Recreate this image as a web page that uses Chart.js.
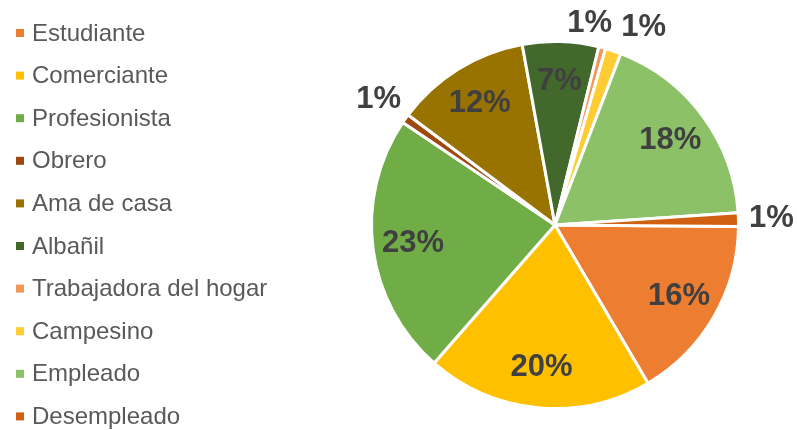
<!DOCTYPE html>
<html lang="es">
<head>
<meta charset="utf-8">
<title>Ocupación</title>
<script src="https://cdn.jsdelivr.net/npm/chart.js@4.4.1/dist/chart.umd.min.js"></script>
<style>
  html, body { margin: 0; padding: 0; background: #fff; }
  #grafico { display: block; }
</style>
</head>
<body>
<canvas id="grafico" width="797" height="430"></canvas>
<script>
// Datos (porcentaje por ocupación)
const ocupaciones = ['Estudiante', 'Comerciante', 'Profesionista', 'Obrero', 'Ama de casa',
    'Albañil', 'Trabajadora del hogar', 'Campesino', 'Empleado', 'Desempleado'];
const porcentajes = [16.4, 19.9, 23.0, 0.8, 11.9, 6.7, 0.6, 1.4, 18.1, 1.2];
const colores = ['#ED7D31', '#FFC000', '#70AD47', '#9E480E', '#997300',
    '#43682B', '#F1975A', '#FFCD33', '#8CC168', '#D26012'];

// Leyenda dibujada a la izquierda
const leyendaPlugin = {
    id: 'leyendaIzq',
    afterDraw(chart) {
        const ctx = chart.ctx;
        ctx.save();
        ctx.font = '24px "Liberation Sans", Arial, sans-serif';
        ctx.textBaseline = 'middle';
        ctx.textAlign = 'left';
        chart.data.labels.forEach((txt, i) => {
            const y = 33 + i * 42.6;
            ctx.fillStyle = chart.data.datasets[0].backgroundColor[i];
            ctx.fillRect(16, y - 4, 8, 8);
            ctx.fillStyle = '#595959';
            ctx.fillText(txt, 32, y + 1);
        });
        ctx.restore();
    }
};

// Etiquetas de porcentaje
const etiquetasPlugin = {
    id: 'etiquetas',
    afterDatasetsDraw(chart) {
        const ctx = chart.ctx;
        const meta = chart.getDatasetMeta(0);
        const valores = chart.data.datasets[0].data;
        const total = valores.reduce((a, b) => a + b, 0);
        const items = meta.data.map((arc, i) => {
            const pct = valores[i] / total * 100;
            return {
                arc, pct,
                ang: (arc.startAngle + arc.endAngle) / 2,
                fuera: pct < 2
            };
        });
        // separar etiquetas exteriores que se encimen
        const fuera = items.filter(it => it.fuera);
        const minSep = 15 * Math.PI / 180;
        for (let k = 1; k < fuera.length; k++) {
            const a = fuera[k - 1], b = fuera[k];
            if (b.ang - a.ang < minSep) {
                const m = (a.ang + b.ang) / 2;
                a.ang = m - minSep / 2;
                b.ang = m + minSep / 2;
            }
        }
        ctx.save();
        ctx.font = 'bold 31px "Liberation Sans", Arial, sans-serif';
        ctx.fillStyle = '#404040';
        ctx.textAlign = 'center';
        ctx.textBaseline = 'middle';
        items.forEach(it => {
            const r = it.arc.outerRadius * (it.fuera ? 1.18 : 0.78);
            const x = it.arc.x + Math.cos(it.ang) * r;
            let y = it.arc.y + Math.sin(it.ang) * r;
            if (it.fuera) y = Math.max(y, 23);
            ctx.fillText(Math.round(it.pct) + '%', x, y);
        });
        ctx.restore();
    }
};

new Chart(document.getElementById('grafico'), {
    type: 'pie',
    data: {
        labels: ocupaciones,
        datasets: [{
            data: porcentajes,
            backgroundColor: colores,
            borderColor: '#ffffff',
            borderWidth: 3
        }]
    },
    options: {
        responsive: false,
        animation: false,
        rotation: 90.5,
        layout: { padding: { left: 370, right: 57, top: 40, bottom: 20 } },
        plugins: {
            legend: { display: false },
            tooltip: { enabled: false }
        }
    },
    plugins: [leyendaPlugin, etiquetasPlugin]
});
</script>
</body>
</html>
